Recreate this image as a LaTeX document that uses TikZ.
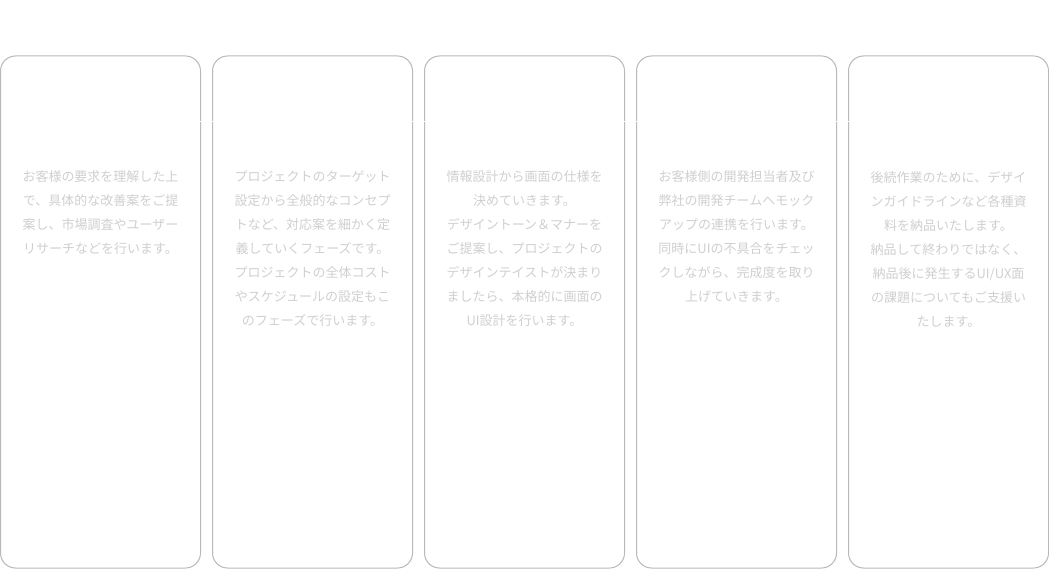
\documentclass[tikz,border=0pt]{standalone}
\usepackage{fontspec}
\newfontfamily\jpfont{Noto Sans CJK JP}
\usetikzlibrary{positioning}
\definecolor{boxgray}{HTML}{B8B8B8}
\definecolor{textgray}{HTML}{CFCFCF}
\begin{document}
\begin{tikzpicture}[x=1pt,y=1pt,inner sep=0pt,outer sep=0pt,
phasebox/.style={draw=boxgray,line width=1pt,rectangle,rounded corners=15pt,minimum width=200pt,minimum height=512pt},
phasetext/.style={anchor=north,align=center,text=textgray,font=\jpfont\fontsize{13pt}{24pt}\selectfont},
gapline/.style={draw=white,line width=1.5pt,shorten <=-2pt,shorten >=-2pt}]
\useasboundingbox (0,0) rectangle (1049,-569);
\node[phasebox] (P1) at (100.5,-312) {};
\node[phasebox,right=12pt of P1] (P2) {};
\node[phasebox,right=12pt of P2] (P3) {};
\node[phasebox,right=12pt of P3] (P4) {};
\node[phasebox,right=12pt of P4] (P5) {};
% small breaks between the boxes
\draw[gapline] ([yshift=-65.5pt]P1.north east) -- ([yshift=-65.5pt]P2.north west);
\draw[gapline] ([yshift=-65.5pt]P2.north east) -- ([yshift=-65.5pt]P3.north west);
\draw[gapline] ([yshift=-65.5pt]P3.north east) -- ([yshift=-65.5pt]P4.north west);
\draw[gapline] ([yshift=-65.5pt]P4.north east) -- ([yshift=-65.5pt]P5.north west);
% texts
\node[phasetext] (T1) at ([yshift=-115pt]P1.north) {お客様の要求を理解した上\\で、具体的な改善案をご提\\案し、市場調査やユーザー\\リサーチなどを行います。};
\node[phasetext] (T2) at ([yshift=-115pt]P2.north) {プロジェクトのターゲット\\設定から全般的なコンセプ\\トなど、対応案を細かく定\\義していくフェーズです。\\プロジェクトの全体コスト\\やスケジュールの設定もこ\\のフェーズで行います。};
\node[phasetext] (T3) at ([yshift=-115pt]P3.north) {情報設計から画面の仕様を\\決めていきます。\\デザイントーン＆マナーを\\ご提案し、プロジェクトの\\デザインテイストが決まり\\ましたら、本格的に画面の\\UI設計を行います。};
\node[phasetext] (T4) at ([yshift=-115pt]P4.north) {お客様側の開発担当者及び\\弊社の開発チームへモック\\アップの連携を行います。\\同時にUIの不具合をチェッ\\クしながら、完成度を取り\\上げていきます。};
\node[phasetext] (T5) at ([yshift=-115pt]P5.north) {後続作業のために、デザイ\\ンガイドラインなど各種資\\料を納品いたします。\\納品して終わりではなく、\\納品後に発生するUI/UX面\\の課題についてもご支援い\\たします。};
\end{tikzpicture}
\end{document}
